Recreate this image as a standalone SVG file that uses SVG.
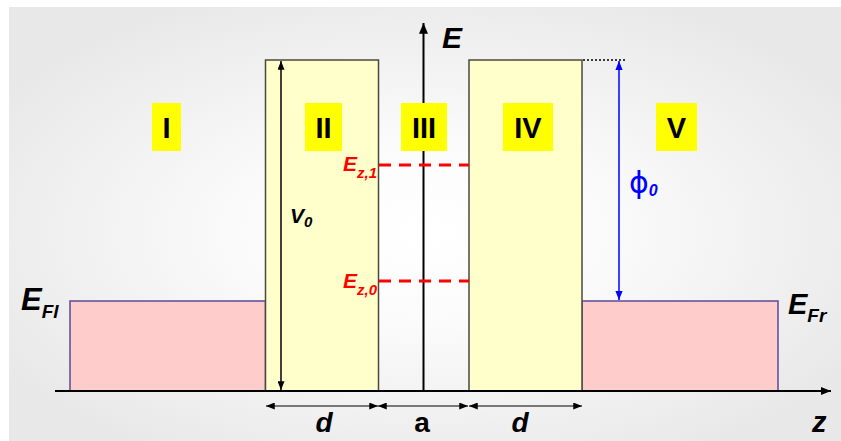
<svg xmlns="http://www.w3.org/2000/svg" width="841" height="441" viewBox="0 0 841 441">
<defs>
<radialGradient id="bg" cx="0.5" cy="0.52" r="0.6">
<stop offset="0" stop-color="#ffffff"/>
<stop offset="0.35" stop-color="#fbfbfb"/>
<stop offset="1" stop-color="#e8e8e8"/>
</radialGradient>
<marker id="ah" viewBox="0 0 10 8" refX="10" refY="4" markerWidth="10" markerHeight="8" markerUnits="userSpaceOnUse" orient="auto-start-reverse">
<path d="M0,0 L10,4 L0,8 Z" fill="#000"/>
</marker>
<marker id="ahs" viewBox="0 0 10 8" refX="10" refY="4" markerWidth="9" markerHeight="7" markerUnits="userSpaceOnUse" orient="auto-start-reverse">
<path d="M0,0 L10,4 L0,8 Z" fill="#000"/>
</marker>
<marker id="ahb" viewBox="0 0 10 8" refX="10" refY="4" markerWidth="9" markerHeight="8" markerUnits="userSpaceOnUse" orient="auto-start-reverse">
<path d="M0,0 L10,4 L0,8 Z" fill="#0000ff"/>
</marker>
<marker id="ahE" viewBox="0 0 10 12" refX="5" refY="0" markerWidth="9" markerHeight="13" markerUnits="userSpaceOnUse" orient="0">
<path d="M0,12 L5,0 L10,12 Z" fill="#000"/>
</marker>
</defs>
<style>
.lbl{font-family:"Liberation Sans",Arial,sans-serif;font-weight:bold;}
.it{font-style:italic;}
.roman{font-size:29px;text-anchor:middle;fill:#000;}
.ybox{fill:#ffff00;}
.barrier{fill:#ffffcc;stroke:#4a4a3c;stroke-width:1.5;}
.metal{fill:#ffcccc;stroke:#5a4a96;stroke-width:1.5;}
.dash{stroke:#ff0000;stroke-width:3;stroke-dasharray:12 8;fill:none;}
.red{fill:#ff0000;}
</style>
<rect x="9" y="7" width="832" height="434" fill="url(#bg)"/>

<g id="metal-left"><rect class="metal" x="70" y="301" width="195.5" height="90"/></g>
<g id="metal-right"><rect class="metal" x="582" y="301" width="196" height="90"/></g>
<g id="barrier-II"><rect class="barrier" x="265.5" y="60" width="113" height="331" stroke="#000"/></g>
<g id="barrier-IV"><rect class="barrier" x="469" y="60" width="113" height="331"/></g>

<g id="connectors">
<line x1="55" y1="391" x2="831" y2="391" stroke="#000" stroke-width="2" marker-end="url(#ah)"/>
<line x1="423.5" y1="391" x2="423.5" y2="23" stroke="#000" stroke-width="2" marker-end="url(#ahE)"/>
<line x1="281" y1="61" x2="281" y2="390" stroke="#000" stroke-width="1.5" marker-start="url(#ahs)" marker-end="url(#ahs)"/>
<line x1="619" y1="61" x2="619" y2="300" stroke="#0000ff" stroke-width="1.5" marker-start="url(#ahb)" marker-end="url(#ahb)"/>
<line x1="583" y1="60" x2="627" y2="60" stroke="#000" stroke-width="1.5" stroke-dasharray="2 2"/>
<line class="dash" x1="379" y1="165" x2="469" y2="165"/>
<line class="dash" x1="379" y1="281" x2="469" y2="281"/>
<line x1="266" y1="406" x2="378" y2="406" stroke="#000" stroke-width="1.2" marker-start="url(#ahs)" marker-end="url(#ahs)"/>
<line x1="378" y1="406" x2="468" y2="406" stroke="#000" stroke-width="1.2" marker-start="url(#ahs)" marker-end="url(#ahs)"/>
<line x1="469" y1="406" x2="582" y2="406" stroke="#000" stroke-width="1.2" marker-start="url(#ahs)" marker-end="url(#ahs)"/>
</g>

<g id="label-I"><rect class="ybox" x="152" y="103" width="29" height="48"/><text class="lbl roman" x="166.5" y="138">I</text></g>
<g id="label-II"><rect class="ybox" x="305" y="103" width="37" height="48"/><text class="lbl roman" x="323.5" y="138">II</text></g>
<g id="label-III"><rect class="ybox" x="401" y="103" width="46" height="48"/><text class="lbl roman" x="424" y="138">III</text></g>
<g id="label-IV"><rect class="ybox" x="503" y="103" width="50" height="48"/><text class="lbl roman" x="528" y="138">IV</text></g>
<g id="label-V"><rect class="ybox" x="656" y="103" width="41" height="48"/><text class="lbl roman" x="676.5" y="138">V</text></g>

<g id="label-E"><text class="lbl it" x="442" y="48" font-size="30">E</text></g>
<g id="label-z"><text class="lbl it" x="812" y="432" font-size="29">z</text></g>
<g id="label-d1"><text class="lbl it" x="324" y="432" font-size="28" text-anchor="middle">d</text></g>
<g id="label-a"><text class="lbl" x="422" y="432" font-size="28" text-anchor="middle">a</text></g>
<g id="label-d2"><text class="lbl it" x="520" y="432" font-size="28" text-anchor="middle">d</text></g>
<g id="label-EFl"><text class="lbl it" x="21" y="310" font-size="31">E<tspan font-size="19" dy="8">Fl</tspan></text></g>
<g id="label-EFr"><text class="lbl it" x="788" y="314" font-size="29">E<tspan font-size="19" dy="8">Fr</tspan></text></g>
<g id="label-V0"><text class="lbl it" x="290" y="223" font-size="21">V<tspan font-size="15" dy="4">0</tspan></text></g>
<g id="label-Ez1"><text class="lbl it red" x="343" y="171" font-size="21">E<tspan font-size="15" dy="7">z,1</tspan></text></g>
<g id="label-Ez0"><text class="lbl it red" x="343" y="288" font-size="21">E<tspan font-size="15" dy="7">z,0</tspan></text></g>
<g id="label-phi0"><text x="629" y="193" font-family="DejaVu Sans,sans-serif" font-size="30" fill="#0000ff">ϕ<tspan font-family="Liberation Sans,Arial,sans-serif" font-weight="bold" font-style="italic" font-size="16" dy="3">0</tspan></text></g>
</svg>
